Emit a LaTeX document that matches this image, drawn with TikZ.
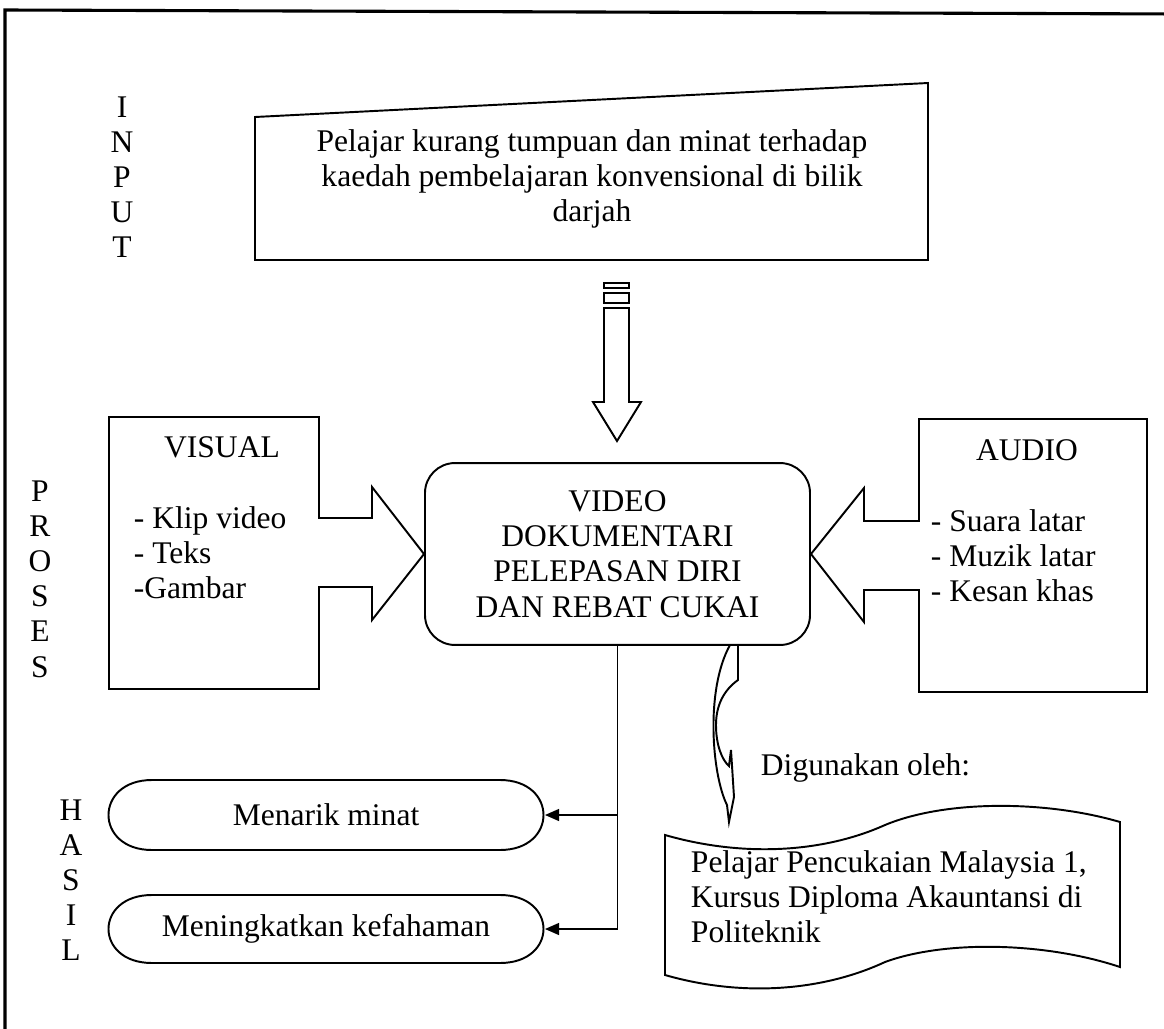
\documentclass[tikz,border=0pt]{standalone}
\usepackage{fontspec}
\setmainfont{Liberation Serif}
\usetikzlibrary{arrows.meta}
\begin{document}
\begin{tikzpicture}[x=0.387pt,y=-0.387pt,line width=0.75pt,
  txt/.style={font=\fontsize{12.2}{13.6}\selectfont,inner sep=0pt,align=center},
  listtxt/.style={font=\fontsize{12.2}{13.6}\selectfont,inner sep=0pt,align=left,anchor=west},
  letters/.style={font=\fontsize{12.2}{13.6}\selectfont,inner sep=0pt,align=center},
  ovaltxt/.style={minimum width=168.7pt,minimum height=26.6pt,inner sep=0pt,font=\fontsize{12.2}{13.6}\selectfont},
  link/.style={-{Triangle[length=5.5pt,width=4.6pt]}},
  frame/.style={line width=1.2pt}]
\useasboundingbox (0,0) rectangle (1164,1029);
\clip (0,0) rectangle (1164,1029);
\fill[white] (0,0) rectangle (1164,1029);
% outer frame
\draw[frame] (5,1040) -- (5,10) -- (1180,14);
% side labels
\node[letters] (lblinput) at (122,177) {I\\N\\P\\U\\T};
\node[letters] (lblproses) at (40,579) {P\\R\\O\\S\\E\\S};
\node[letters] (lblhasil) at (71,880) {H\\A\\S\\I\\L};
% input (manual input shape)
\draw (255,117) -- (928,83) -- (928,260) -- (255,260) -- cycle;
\node[txt] (intext) at (592,179) {Pelajar kurang tumpuan dan minat terhadap\\kaedah pembelajaran konvensional di bilik\\darjah};
% striped block arrow down
\draw (604,283) rectangle (629,288);
\draw (604,293) rectangle (629,303);
\draw (604,308) -- (604,402) -- (593,402) -- (617,441) -- (641,402) -- (629,402) -- (629,308) -- cycle;
% centre box
\node[draw,rounded corners=11.6pt,minimum width=149pt,minimum height=70.4pt,txt] (centre) at (617.5,554)
  {VIDEO\\DOKUMENTARI\\PELEPASAN DIRI\\DAN REBAT CUKAI};
% visual box with arrow
\draw (109,417) -- (319,417) -- (319,518) -- (372,518) -- (372,487) -- (centre.west) -- (372,620) -- (372,587) -- (319,587) -- (319,689) -- (109,689) -- cycle;
\node[txt] (vistitle) at (222,447) {VISUAL};
\node[listtxt] (vislist) at (133,553) {- Klip video\\- Teks\\-Gambar};
% audio box with arrow
\draw (1147,419) -- (919,419) -- (919,521) -- (864,521) -- (864,488) -- (centre.east) -- (864,622) -- (864,590) -- (919,590) -- (919,692) -- (1147,692) -- cycle;
\node[txt] (audtitle) at (1027,450) {AUDIO};
\node[listtxt] (audlist) at (930,556) {- Suara latar\\- Muzik latar\\- Kesan khas};
% outcomes (terminator shapes with elliptical ends)
\draw (152,780) -- (500,780) .. controls (558,780) and (558,850) .. (500,850)
  -- (152,850) .. controls (94,850) and (94,780) .. (152,780) -- cycle;
\draw (152,895) -- (500,895) .. controls (558,895) and (558,963) .. (500,963)
  -- (152,963) .. controls (94,963) and (94,895) .. (152,895) -- cycle;
\node[ovaltxt] (oval1) at (326,815) {Menarik minat};
\node[ovaltxt] (oval2) at (326,929) {Meningkatkan kefahaman};
\draw[link] (centre.south) |- (oval2.east);
\draw[link] (centre.south |- oval1.east) -- (oval1.east);
% curved arrow
\draw[fill=white] (730,645) -- (738,645) -- (738,680)
  .. controls (724,690) and (716,705) .. (716,725)
  .. controls (716,745) and (722,760) .. (729,766)
  -- (731,750) -- (734,797) -- (729,822) -- (727,805)
  .. controls (712,775) and (705,690) .. (730,645) -- cycle;
\node[listtxt] (usedby) at (760,768) {Digunakan oleh:};
% punched tape document
\draw (665,835) .. controls (745,858) and (825,852) .. (885,825)
  .. controls (945,800) and (1045,800) .. (1120,822)
  -- (1120,967)
  .. controls (1045,942) and (945,940) .. (885,962)
  .. controls (825,990) and (745,998) .. (665,975) -- cycle;
\node[listtxt] (doctext) at (690,897) {Pelajar Pencukaian Malaysia 1,\\Kursus Diploma Akauntansi di\\Politeknik};
\end{tikzpicture}
\end{document}
